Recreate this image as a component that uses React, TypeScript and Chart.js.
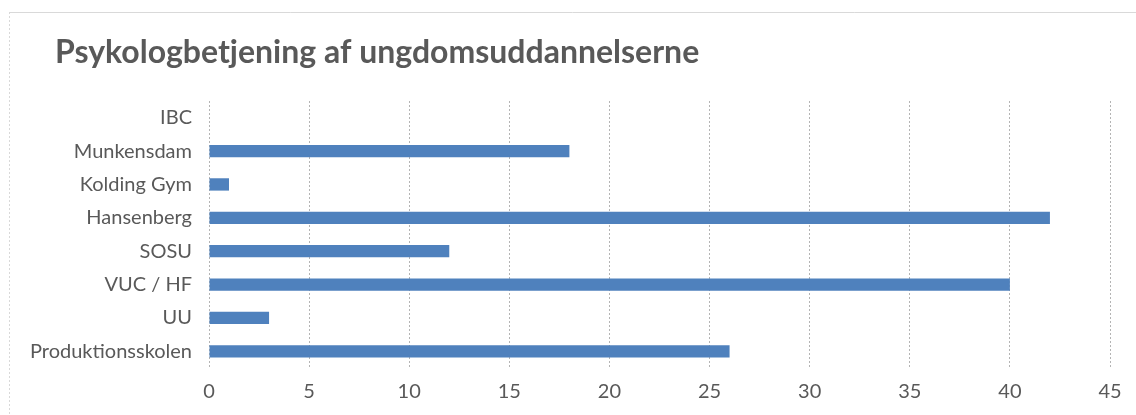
import React, { useEffect, useRef } from "react";
import { Chart, registerables } from "chart.js";

Chart.register(...registerables);

const categories = ["IBC", "Munkensdam", "Kolding Gym", "Hansenberg", "SOSU", "VUC / HF", "UU", "Produktionsskolen"];
const values = [0, 18, 1, 42, 12, 40, 3, 26];
const titleText = "Psykologbetjening af ungdomsuddannelserne";
const xMin = 0;
const xMax = 45;
const xStep = 5;

const W = 1136;
const H = 415;

const framePlugin = {
  id: "frameAndTitle",
  beforeDraw(chart: any) {
    const ctx = chart.ctx;
    ctx.save();
    ctx.fillStyle = "#ffffff";
    ctx.fillRect(0, 0, chart.width, chart.height);
    ctx.strokeStyle = "#d9d9d9";
    ctx.lineWidth = 1;
    ctx.beginPath();
    ctx.moveTo(9, 12.5);
    ctx.lineTo(chart.width, 12.5);
    ctx.stroke();
    ctx.setLineDash([2, 2]);
    ctx.beginPath();
    ctx.moveTo(9.5, 12);
    ctx.lineTo(9.5, chart.height);
    ctx.stroke();
    ctx.restore();
  },
  afterDraw(chart: any) {
    const ctx = chart.ctx;
    ctx.save();
    ctx.fillStyle = "#595959";
    ctx.font = "bold 32px Lato";
    ctx.textBaseline = "alphabetic";
    ctx.textAlign = "left";
    ctx.fillText(titleText, 55, 63);
    ctx.restore();
  },
};

export default function App() {
  const ref = useRef<HTMLCanvasElement>(null);
  useEffect(() => {
    if (!ref.current) return;
    const chart = new Chart(ref.current, {
      type: "bar",
      data: {
        labels: categories,
        datasets: [
          {
            data: values,
            backgroundColor: "#4f81bd",
            borderWidth: 0,
            barPercentage: 0.37,
            categoryPercentage: 1,
          },
        ],
      },
      options: {
        indexAxis: "y",
        animation: false,
        responsive: false,
        maintainAspectRatio: false,
        layout: { padding: { top: 101, right: 26, bottom: 0, left: 0 } },
        plugins: { legend: { display: false }, title: { display: false }, tooltip: { enabled: false } },
        scales: {
          x: {
            min: xMin,
            max: xMax,
            ticks: { stepSize: xStep, color: "#595959", font: { family: "Lato", size: 20 }, padding: 12 },
            grid: { color: "#b4b4b4", drawTicks: false },
            border: { display: false, dash: [2, 2] },
            afterFit: (s: any) => {
              s.height = 47;
            },
          },
          y: {
            ticks: { color: "#595959", font: { family: "Lato", size: 20 }, padding: 17 },
            grid: { display: false, drawTicks: false },
            border: { display: false },
            afterFit: (s: any) => {
              s.width = 209;
            },
          },
        },
      },
      plugins: [framePlugin],
    });
    return () => chart.destroy();
  }, []);
  return (
    <div style={{ position: "fixed", left: 0, top: 0, width: W, height: H, background: "#fff" }}>
      <canvas ref={ref} width={W} height={H} style={{ width: W, height: H }} />
    </div>
  );
}
